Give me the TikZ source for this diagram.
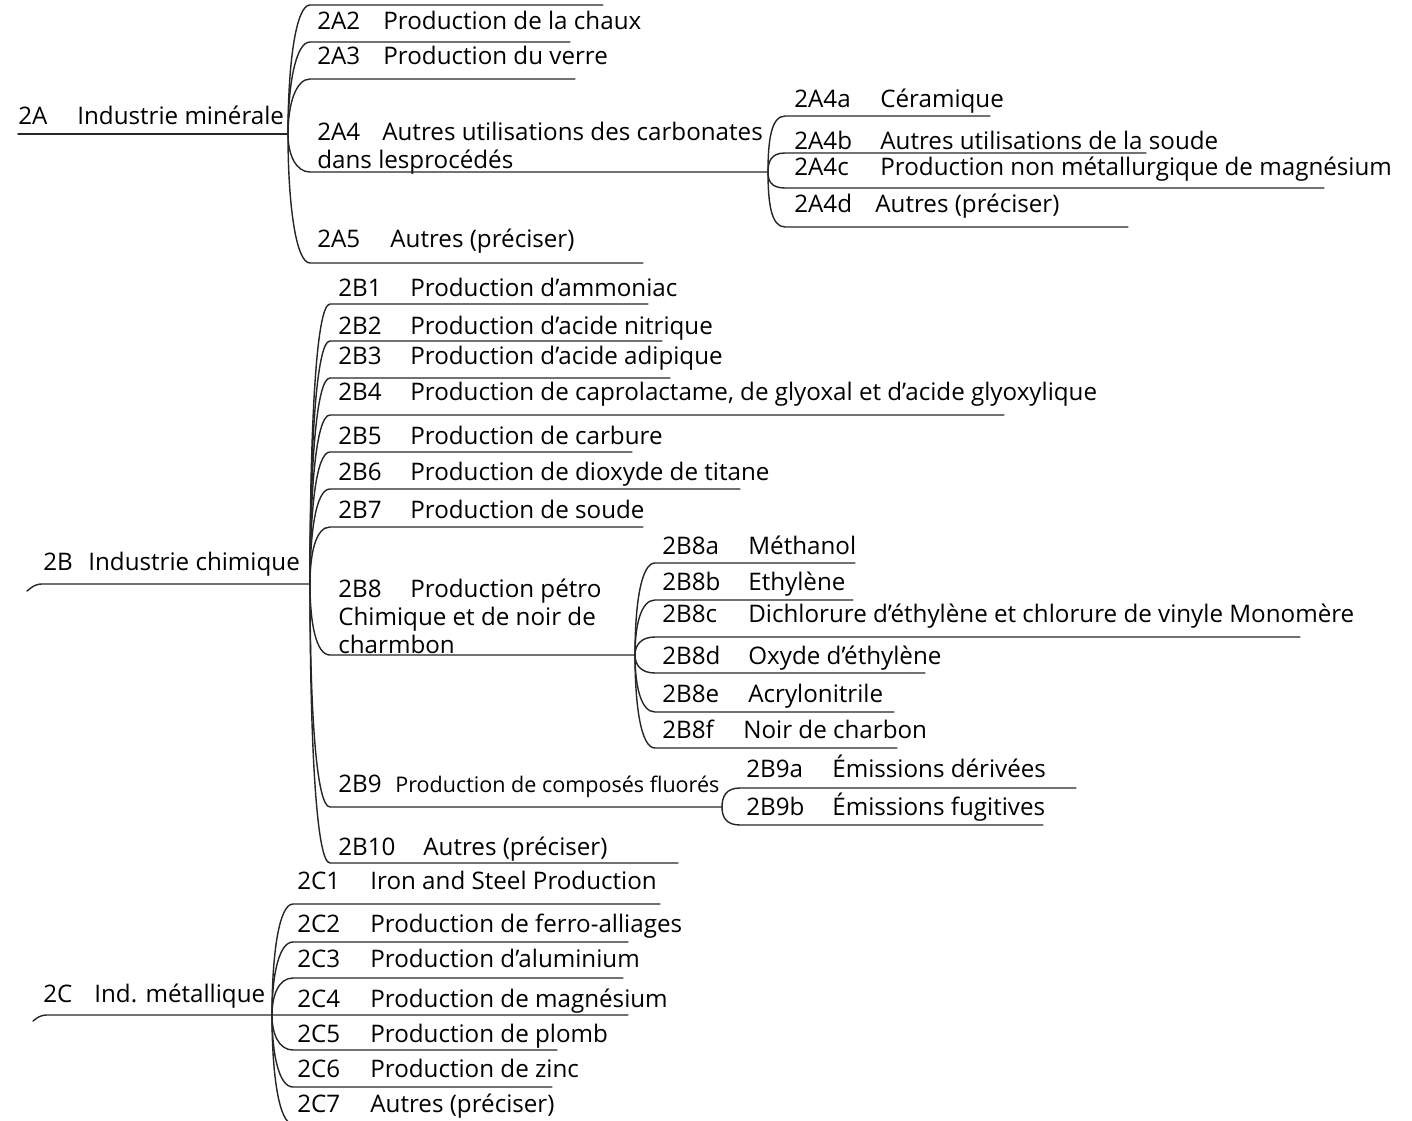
\documentclass[tikz,border=0pt]{standalone}
\usepackage{fontspec}
\setmainfont{Open Sans}
\usetikzlibrary{calc}

\newlength{\px}
\setlength{\px}{0.5666pt}
\newcommand{\tab}[2]{\makebox[#1\px][l]{#2}}

\begin{document}
\begin{tikzpicture}[
    x=0.5666pt, y=-0.5666pt,
    every node/.style={inner sep=0pt, font=\fontsize{13.7}{15.8}\selectfont},
    item/.style={anchor=base west},
    block/.style={anchor=west, align=left},
    rule/.style={draw=black!85, line width=0.8pt, line cap=round},
    twig/.style={to path={.. controls ($(\tikztostart)!0.55!(\tikztostart|-\tikztotarget)$) and ($(\tikztotarget)+(-14,0)$) .. (\tikztotarget)}}
]
\useasboundingbox (0,0) rectangle (1412,1120);
\clip (0,0) rectangle (1412,1120);

% -------------------------
% 2A INDUSTRIE MINERALE
% -------------------------
\coordinate (rootA) at (18,134);
\coordinate (fA) at (288,134);
\node[item] (A) at (18,124) {\tab{59}{2A}Industrie minérale};

\coordinate (A1s) at (310,5);    \coordinate (A1e) at (603,5);
\coordinate (A2s) at (310,42);   \coordinate (A2e) at (570,42);
\coordinate (A3s) at (310,79);   \coordinate (A3e) at (575,79);
\coordinate (A4s) at (310,172);  \coordinate (fA4) at (768,172);
\coordinate (A5s) at (310,263);  \coordinate (A5e) at (643,263);

\node[item] (A2) at (317,29) {\tab{66}{2A2}Production de la chaux};
\node[item] (A3) at (317,64) {\tab{66}{2A3}Production du verre};
\node[block] (A4) at (317,148.5) {\tab{65}{2A4}Autres utilisations des carbonates\\dans lesprocédés};
\node[item] (A5) at (317,247) {\tab{73}{2A5}Autres (préciser)};

% 2A4 sub-items
\coordinate (A4as) at (785,116); \coordinate (A4ae) at (990,116);
\coordinate (A4bs) at (785,153); \coordinate (A4be) at (1146,153);
\coordinate (A4cs) at (785,188); \coordinate (A4ce) at (1324,188);
\coordinate (A4ds) at (785,227); \coordinate (A4de) at (1128,227);

\node[item] (A4a) at (794,107) {\tab{86}{2A4a}Céramique};
\node[item] (A4b) at (794,149) {\tab{86}{2A4b}Autres utilisations de la soude};
\node[item] (A4c) at (794,175) {\tab{86}{2A4c}Production non métallurgique de magnésium};
\node[item] (A4d) at (794,212) {\tab{81}{2A4d}Autres (préciser)};

% -------------------------
% 2B INDUSTRIE CHIMIQUE
% -------------------------
\coordinate (rootB) at (27,591);
\coordinate (tipB) at (36,584);
\coordinate (fB) at (310,584);
\node[item] (B) at (43,570) {\tab{45}{2B}Industrie chimique};

\coordinate (B1s) at (330,304);  \coordinate (B1e) at (648,304);
\coordinate (B2s) at (330,341);  \coordinate (B2e) at (662,341);
\coordinate (B3s) at (330,378);  \coordinate (B3e) at (670,378);
\coordinate (B4s) at (330,415);  \coordinate (B4e) at (1004,415);
\coordinate (B5s) at (330,452);  \coordinate (B5e) at (632,452);
\coordinate (B6s) at (330,489);  \coordinate (B6e) at (740,489);
\coordinate (B7s) at (330,527);  \coordinate (B7e) at (643,527);
\coordinate (B8s) at (330,655);  \coordinate (fB8) at (635,655);
\coordinate (B9s) at (330,807);  \coordinate (fB9) at (722,807);
\coordinate (B10s) at (330,863); \coordinate (B10e) at (678,863);

\node[item] (B1) at (338,296) {\tab{72}{2B1}Production d’ammoniac};
\node[item] (B2) at (338,334) {\tab{72}{2B2}Production d’acide nitrique};
\node[item] (B3) at (338,364) {\tab{72}{2B3}Production d’acide adipique};
\node[item] (B4) at (338,400) {\tab{72}{2B4}Production de caprolactame, de glyoxal et d’acide glyoxylique};
\node[item] (B5) at (338,444) {\tab{72}{2B5}Production de carbure};
\node[item] (B6) at (338,480) {\tab{72}{2B6}Production de dioxyde de titane};
\node[item] (B7) at (338,518) {\tab{72}{2B7}Production de soude};
\node[block] (B8) at (338,616.5) {\tab{72}{2B8}Production pétro\\Chimique et de noir de\\charmbon};
\node[item] (B9) at (338,792) {\tab{57}{2B9}{\fontsize{12.2}{14}\selectfont Production de composés fluorés}};
\node[item] (B10) at (338,855) {\tab{85}{2B10}Autres (préciser)};

% 2B8 sub-items
\coordinate (B8as) at (655,563); \coordinate (B8ae) at (855,563);
\coordinate (B8bs) at (655,600); \coordinate (B8be) at (853,600);
\coordinate (B8cs) at (655,637); \coordinate (B8ce) at (1300,637);
\coordinate (B8ds) at (655,673); \coordinate (B8de) at (925,673);
\coordinate (B8es) at (655,712); \coordinate (B8ee) at (894,712);
\coordinate (B8fs) at (655,748); \coordinate (B8fe) at (897,748);

\node[item] (B8a) at (662,554) {\tab{86}{2B8a}Méthanol};
\node[item] (B8b) at (662,590) {\tab{86}{2B8b}Ethylène};
\node[item] (B8c) at (662,622) {\tab{86}{2B8c}Dichlorure d’éthylène et chlorure de vinyle Monomère};
\node[item] (B8d) at (662,664) {\tab{86}{2B8d}Oxyde d’éthylène};
\node[item] (B8e) at (662,702) {\tab{86}{2B8e}Acrylonitrile};
\node[item] (B8f) at (662,738) {\tab{81}{2B8f}Noir de charbon};

% 2B9 sub-items
\coordinate (B9as) at (740,788); \coordinate (B9ae) at (1076,788);
\coordinate (B9bs) at (740,825); \coordinate (B9be) at (1043,825);

\node[item] (B9a) at (746,777) {\tab{86}{2B9a}Émissions dérivées};
\node[item] (B9b) at (746,815) {\tab{86}{2B9b}Émissions fugitives};

% -------------------------
% 2C IND. METALLIQUE
% -------------------------
\coordinate (rootC) at (33,1021);
\coordinate (tipC) at (41,1015);
\coordinate (fC) at (272,1015);
\node[item] (C) at (43,1002) {\tab{51}{2C}Ind. métallique};

\coordinate (C1s) at (293,904);  \coordinate (C1e) at (660,904);
\coordinate (C2s) at (293,942);  \coordinate (C2e) at (628,942);
\coordinate (C3s) at (293,978);  \coordinate (C3e) at (623,978);
\coordinate (C4s) at (290,1015); \coordinate (C4e) at (628,1015);
\coordinate (C5s) at (293,1050); \coordinate (C5e) at (557,1050);
\coordinate (C6s) at (293,1087); \coordinate (C6e) at (552,1087);
\coordinate (C7s) at (293,1124); \coordinate (C7e) at (560,1124);

\node[item] (C1) at (297,889) {\tab{73}{2C1}Iron and Steel Production};
\node[item] (C2) at (297,932) {\tab{73}{2C2}Production de ferro-alliages};
\node[item] (C3) at (297,967) {\tab{73}{2C3}Production d’aluminium};
\node[item] (C4) at (297,1007) {\tab{73}{2C4}Production de magnésium};
\node[item] (C5) at (297,1042) {\tab{73}{2C5}Production de plomb};
\node[item] (C6) at (297,1077) {\tab{73}{2C6}Production de zinc};
\node[item] (C7) at (297,1112) {\tab{73}{2C7}Autres (préciser)};

% -------------------------
% BRANCHES
% -------------------------
\draw[rule] (rootA) -- (fA);
\draw[rule] (fA) to[twig] (A1s) -- (A1e);
\draw[rule] (fA) to[twig] (A2s) -- (A2e);
\draw[rule] (fA) to[twig] (A3s) -- (A3e);
\draw[rule] (fA) to[twig] (A4s) -- (fA4);
\draw[rule] (fA) to[twig] (A5s) -- (A5e);

\draw[rule] (fA4) to[twig] (A4as) -- (A4ae);
\draw[rule] (fA4) to[twig] (A4bs) -- (A4be);
\draw[rule] (fA4) to[twig] (A4cs) -- (A4ce);
\draw[rule] (fA4) to[twig] (A4ds) -- (A4de);

\draw[rule, rounded corners=3pt] (rootB) -- (tipB) -- (fB);
\foreach \k/\e in {B1/B1e, B2/B2e, B3/B3e, B4/B4e, B5/B5e, B6/B6e, B7/B7e, B8/fB8, B9/fB9, B10/B10e}
    \draw[rule] (fB) to[twig] (\k s) -- (\e);

\foreach \k in {B8a, B8b, B8c, B8d, B8e, B8f}
    \draw[rule] (fB8) to[twig] (\k s) -- (\k e);

\foreach \k in {B9a, B9b}
    \draw[rule] (fB9) to[twig] (\k s) -- (\k e);

\draw[rule, rounded corners=3pt] (rootC) -- (tipC) -- (fC);
\foreach \k in {C1, C2, C3, C4, C5, C6, C7}
    \draw[rule] (fC) to[twig] (\k s) -- (\k e);

\end{tikzpicture}
\end{document}
